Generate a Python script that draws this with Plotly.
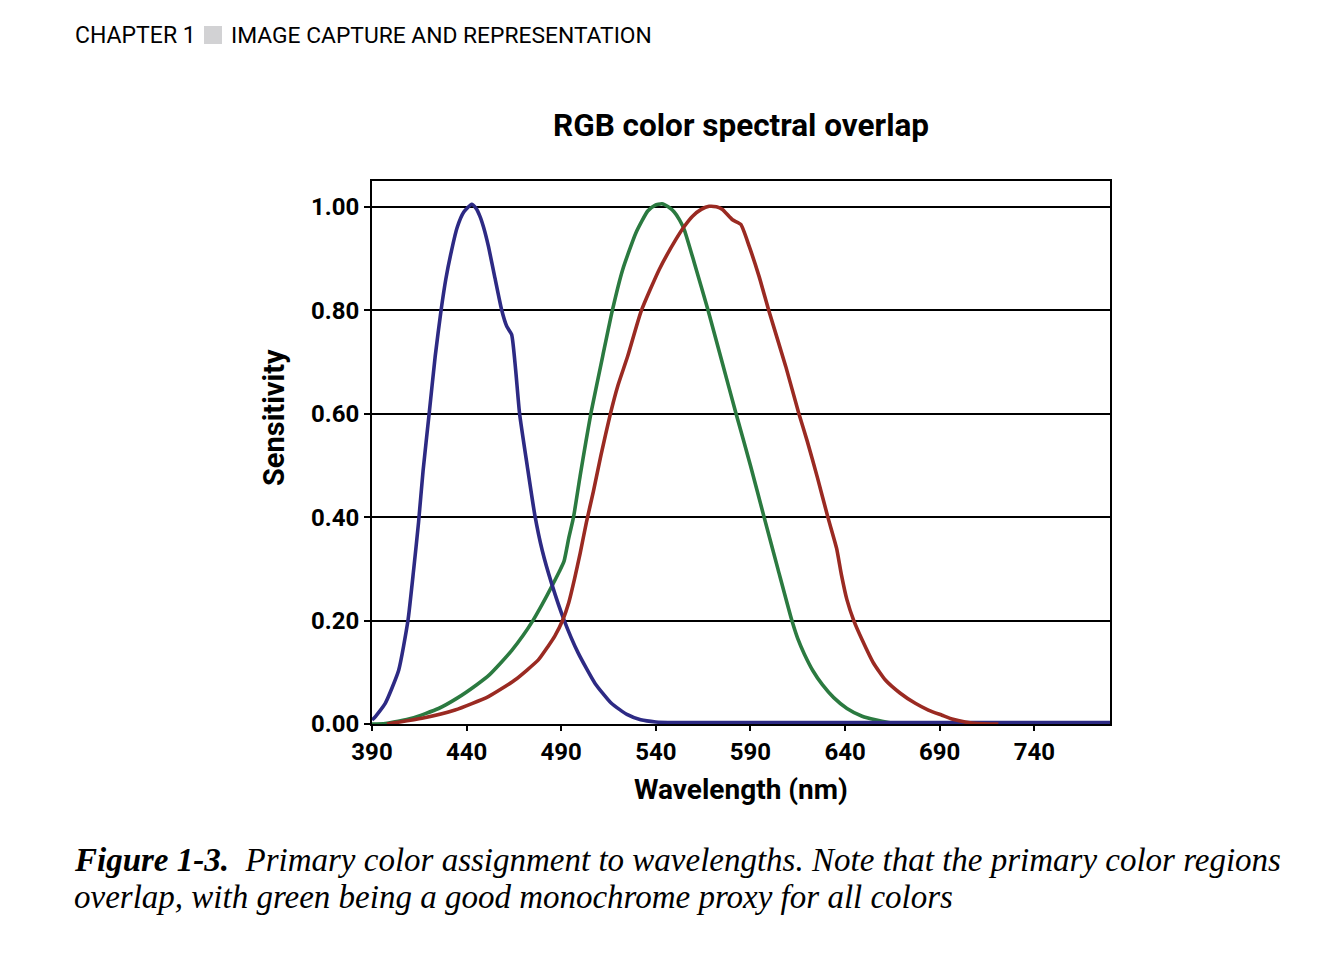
import plotly.graph_objects as go

# ---- data ----
blue_x = [390, 391, 397, 404.1, 409, 412, 414.6, 417, 420.2, 423.4, 426.5, 429, 432, 435, 438.5, 442.7, 445, 447, 449, 451.5, 455, 458.5, 461.2, 463.8, 465.9, 468, 472, 476, 480, 484.9, 491.6, 499, 507.8, 516.5, 525, 532, 540, 550, 600, 650, 700, 750, 780]
blue_y = [0.008, 0.011, 0.040, 0.104, 0.20, 0.298, 0.39, 0.49, 0.60, 0.711, 0.80, 0.86, 0.915, 0.96, 0.99, 1.005, 0.997, 0.982, 0.96, 0.924, 0.862, 0.801, 0.769, 0.753, 0.685, 0.60, 0.50, 0.405, 0.335, 0.272, 0.20, 0.137, 0.079, 0.040, 0.018, 0.008, 0.004, 0.003, 0.003, 0.003, 0.003, 0.003, 0.003]

green_x = [390, 397, 411, 425.2, 435, 445, 452, 458, 464, 470, 475, 480, 485, 489, 491.5, 494, 496.5, 500, 503, 505.8, 511.9, 516.9, 522.5, 529.5, 535.7, 539.5, 543.2, 546.5, 549.7, 552.5, 555, 560.3, 567.6, 575, 582.4, 590, 597.2, 604.5, 611.9, 615, 618.5, 623, 628, 634, 641, 649, 656, 663, 670, 675]
green_y = [0.0, 0.001, 0.011, 0.030, 0.050, 0.075, 0.095, 0.118, 0.143, 0.172, 0.20, 0.232, 0.266, 0.295, 0.315, 0.36, 0.40, 0.48, 0.545, 0.603, 0.711, 0.798, 0.879, 0.95, 0.992, 1.003, 1.006, 1.0, 0.99, 0.975, 0.956, 0.892, 0.80, 0.70, 0.60, 0.50, 0.40, 0.30, 0.20, 0.165, 0.135, 0.103, 0.076, 0.051, 0.030, 0.015, 0.008, 0.003, 0.0, 0.0]

red_x = [397.9, 416.4, 433.9, 451.5, 465.5, 477.9, 483, 486.6, 490.7, 494, 497, 500, 503.3, 507, 511, 516, 520, 525.1, 532.2, 541.8, 550.6, 555, 559.4, 564, 568.2, 572, 575.2, 580.5, 584.9, 589.3, 594.5, 599.8, 608.6, 615.6, 620, 625.5, 630.9, 635.5, 638, 641, 644.6, 649, 655, 661.3, 669, 677.1, 684, 691.2, 697, 703.5, 710, 721]
red_y = [0.0, 0.011, 0.027, 0.053, 0.085, 0.124, 0.15, 0.17, 0.20, 0.235, 0.28, 0.33, 0.39, 0.45, 0.52, 0.60, 0.655, 0.711, 0.798, 0.879, 0.937, 0.962, 0.982, 0.995, 1.001, 1.0, 0.995, 0.975, 0.966, 0.924, 0.866, 0.798, 0.692, 0.60, 0.547, 0.475, 0.40, 0.34, 0.29, 0.24, 0.20, 0.163, 0.118, 0.085, 0.06, 0.04, 0.027, 0.017, 0.009, 0.004, 0.001, 0.0]

x_ticks = [390, 440, 490, 540, 590, 640, 690, 740]
y_ticks = [0.0, 0.2, 0.4, 0.6, 0.8, 1.0]
y_tick_labels = ["0.00", "0.20", "0.40", "0.60", "0.80", "1.00"]

BLUE = "#2d2a84"
GREEN = "#2b7a40"
RED = "#9a2a22"
SANS = "Roboto, DejaVu Sans Condensed, sans-serif"
SERIF = "Liberation Serif, DejaVu Serif, serif"

OFF = 8  # page body margin
W, H = 1336 - OFF, 956 - OFF
L, R, T, B = 372, 1110, 181, 724  # plot area in reference pixels


def px(x):
    return (x - L) / (R - L)


def py(y):
    return (B - y) / (B - T)


fig = go.Figure()
for xs, ys, col in [(green_x, green_y, GREEN), (blue_x, blue_y, BLUE), (red_x, red_y, RED)]:
    fig.add_trace(go.Scatter(x=xs, y=ys, mode="lines", hoverinfo="skip",
                             line=dict(color=col, width=3.6, shape="spline", smoothing=0.5)))

fig.update_layout(
    width=W, height=H,
    margin=dict(l=L - OFF, r=W - (R - OFF), t=T - OFF, b=H - (B - OFF)),
    paper_bgcolor="white", plot_bgcolor="white",
    showlegend=False,
    font=dict(family=SANS, color="black"),
)
fig.update_xaxes(
    range=[390, 780], tickvals=x_ticks, ticktext=[str(v) for v in x_ticks],
    showgrid=False, zeroline=False,
    showline=True, linecolor="black", linewidth=2, mirror=True,
    ticks="outside", ticklen=5, tickwidth=2, tickcolor="black",
    tickfont=dict(family=SANS, size=24, weight="bold", color="black"),
)
fig.update_yaxes(
    range=[0, 1.05], tickvals=y_ticks, ticktext=y_tick_labels,
    showgrid=True, gridcolor="black", gridwidth=2.2, zeroline=False,
    showline=True, linecolor="black", linewidth=2, mirror=True,
    ticks="outside", ticklen=6, tickwidth=2, tickcolor="black",
    tickfont=dict(family=SANS, size=24, weight="bold", color="black"),
)

ann = []


def add_text(text, x, y, size, xanchor="left", angle=0, family=SANS, weight="normal", style="normal"):
    ann.append(dict(text=text, x=px(x), y=py(y), xref="paper", yref="paper",
                    showarrow=False, xanchor=xanchor, yanchor="middle", textangle=angle,
                    font=dict(family=family, size=size, weight=weight, style=style, color="black")))


add_text("RGB color spectral overlap", 741, 125, 31.5, xanchor="center", weight="bold")
add_text("Wavelength (nm)", 741, 789, 28, xanchor="center", weight="bold")
add_text("Sensitivity", 274, 418, 29, xanchor="center", angle=-90, weight="bold")
add_text("CHAPTER 1", 73, 35, 23)
add_text("IMAGE CAPTURE AND REPRESENTATION", 229, 35, 22.8)
add_text("<b>Figure 1-3.</b>  Primary color assignment to wavelengths. Note that the primary color regions",
         72, 860, 33, family=SERIF, style="italic")
add_text("overlap, with green being a good monochrome proxy for all colors",
         72, 897, 33, family=SERIF, style="italic")
fig.update_layout(annotations=ann)

fig.add_shape(type="rect", xref="paper", yref="paper",
              x0=px(204), x1=px(222), y0=py(44), y1=py(26),
              fillcolor="#d2d2d4", line=dict(width=0))

fig.write_html("out.html")
